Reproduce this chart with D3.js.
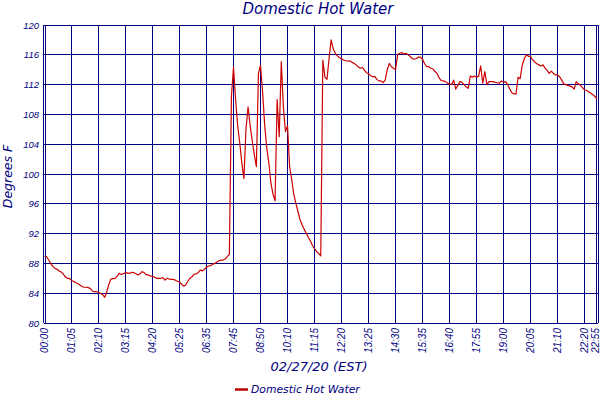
<!DOCTYPE html>
<html>
<head>
<meta charset="utf-8">
<script src="https://cdn.jsdelivr.net/npm/d3@7"></script>
<style>
body { margin: 0; background: #fff; }
svg { display: block; }
</style>
</head>
<body>
<script>
// tick labels along the bottom, one every 13 samples plus the last sample
const tickLabels = ["00:00","01:05","02:10","03:15","04:20","05:25","06:35","07:45","08:50","10:10","11:15",
    "12:20","13:25","14:30","15:35","16:40","17:55","19:00","20:05","21:10","22:20","22:55"]
const tickIndex = [0,13,26,39,52,65,78,91,104,117,130,143,156,169,182,195,208,221,234,247,260,266]
const yTicks = [80,84,88,92,96,100,104,108,112,116,120]

// Domestic Hot Water, degrees F, one value per sample
const temps = [
    89.0, 88.9, 88.45, 88.0, 87.6, 87.35, 87.2, 87.0, 86.85, 86.6,
    86.2, 86.0, 86.0, 85.7, 85.6, 85.4, 85.3, 85.1, 84.9, 84.8,
    84.8, 84.75, 84.65, 84.3, 84.2, 84.2, 84.1, 84.0, 83.8, 83.45,
    84.2, 85.2, 85.9, 85.95, 86.0, 86.3, 86.65, 86.5, 86.65, 86.75,
    86.7, 86.65, 86.8, 86.75, 86.6, 86.45, 86.6, 86.9, 86.75, 86.45,
    86.45, 86.3, 86.3, 86.15, 86.0, 86.0, 86.0, 86.1, 85.75, 86.0,
    85.9, 85.85, 85.85, 85.75, 85.6, 85.5, 85.2, 84.95, 85.1, 85.6,
    86.0, 86.2, 86.55, 86.6, 86.75, 87.1, 87.0, 87.2, 87.5, 87.65,
    87.7, 87.9, 88.0, 88.2, 88.35, 88.45, 88.45, 88.6, 88.9, 89.2,
    110.5, 114.3, 110.0, 106.5, 104.2, 101.5, 99.4, 106.0, 109.0, 106.5,
    104.5, 102.6, 101.0, 113.5, 114.6, 111.0, 106.6, 103.5, 101.5, 98.8,
    97.3, 96.4, 110.0, 105.0, 115.1, 109.0, 105.7, 106.5, 101.0, 99.3,
    97.3, 96.1, 95.0, 93.9, 93.2, 92.6, 92.05, 91.5, 91.0, 90.4,
    90.0, 89.6, 89.3, 89.0, 115.3, 113.0, 112.7, 115.5, 118.0, 116.8,
    116.2, 115.85, 115.6, 115.45, 115.3, 115.2, 115.15, 115.2, 115.0, 114.85,
    114.65, 114.4, 114.2, 114.3, 113.95, 113.6, 113.45, 113.2, 113.05, 113.1,
    112.7, 112.5, 112.5, 112.25, 112.6, 114.0, 114.85, 114.4, 114.2, 114.0,
    116.0, 116.2, 116.3, 116.1, 116.2, 116.0, 115.8, 115.5, 115.4, 115.5,
    115.7, 115.7, 115.4, 114.8, 114.4, 114.4, 114.2, 114.1, 113.75, 113.5,
    112.9, 112.55, 112.5, 112.4, 112.2, 112.1, 112.0, 112.6, 111.4, 111.9,
    112.4, 112.3, 112.0, 111.7, 111.5, 113.15, 113.0, 113.15, 113.0, 113.1,
    114.5, 112.2, 113.75, 112.0, 112.4, 112.4, 112.4, 112.3, 112.25, 112.2,
    112.5, 112.3, 112.4, 112.0, 111.4, 110.9, 110.75, 110.75, 113.0, 112.8,
    114.6, 115.5, 116.0, 115.8, 115.8, 115.3, 115.05, 114.8, 114.65, 114.5,
    114.65, 114.2, 113.9, 113.5, 113.8, 113.5, 113.3, 113.3, 113.05, 112.6,
    112.1, 112.0, 111.9, 111.8, 111.7, 111.4, 112.4, 112.1, 111.9, 111.6,
    111.3, 111.2, 111.05, 110.85, 110.65, 110.4, 110.1
]

const navy = "#000080"
const lineColor = "#cc0000"
const tickFont = "'Liberation Sans', Arial, sans-serif"
const titleFont = "'DejaVu Sans', Verdana, sans-serif"

const x = d3.scaleLinear().domain([0, temps.length - 1]).range([44.5, 597])
const y = d3.scaleLinear().domain([80, 120]).range([323, 25])
const snap = v => Math.round(v - 0.5) + 0.5

const svg = d3.select("body")
    .append("svg")
    .attr("width", 600)
    .attr("height", 400)

// grid
const grid = svg.append("g")
    .attr("stroke", navy)
    .attr("stroke-width", 1)
    .attr("shape-rendering", "crispEdges")

grid.selectAll("line.h")
    .data(yTicks)
    .enter()
    .append("line")
    .attr("class", "h")
    .attr("x1", 44)
    .attr("x2", 598)
    .attr("y1", d => snap(y(d)))
    .attr("y2", d => snap(y(d)))

grid.selectAll("line.v")
    .data(tickIndex.slice(1, -1))
    .enter()
    .append("line")
    .attr("class", "v")
    .attr("x1", d => snap(x(d)))
    .attr("x2", d => snap(x(d)))
    .attr("y1", y(120))
    .attr("y2", y(80))

// double border on both sides
grid.selectAll("line.b")
    .data([43.5, 45.5, 596.5, 598.5])
    .enter()
    .append("line")
    .attr("class", "b")
    .attr("x1", d => d)
    .attr("x2", d => d)
    .attr("y1", y(120))
    .attr("y2", y(80))

// y labels
svg.append("g")
    .selectAll("text")
    .data(yTicks)
    .enter()
    .append("text")
    .attr("x", 39)
    .attr("y", d => y(d) + 3.5)
    .attr("text-anchor", "end")
    .attr("font-family", tickFont)
    .attr("font-style", "italic")
    .attr("font-size", 9.5)
    .attr("fill", navy)
    .text(d => d)

// x labels, rotated (last one kept inside the frame)
svg.append("g")
    .selectAll("text")
    .data(tickIndex)
    .enter()
    .append("text")
    .attr("transform", d => `translate(${Math.min(x(d) + 3.5, 598.5)},328) rotate(-90)`)
    .attr("text-anchor", "end")
    .attr("font-family", tickFont)
    .attr("font-style", "italic")
    .attr("font-size", 10)
    .attr("fill", navy)
    .text((d, i) => tickLabels[i])

// the series
const line = d3.line()
    .x((d, i) => x(i))
    .y(d => y(d))

svg.append("path")
    .datum(temps)
    .attr("fill", "none")
    .attr("stroke", lineColor)
    .attr("stroke-width", 1.2)
    .attr("stroke-linejoin", "round")
    .attr("d", line)

// titles
svg.append("text")
    .attr("x", 318)
    .attr("y", 14)
    .attr("text-anchor", "middle")
    .attr("font-family", titleFont)
    .attr("font-style", "italic")
    .attr("font-size", 15)
    .attr("fill", navy)
    .text("Domestic Hot Water")

svg.append("text")
    .attr("x", 319)
    .attr("y", 371)
    .attr("text-anchor", "middle")
    .attr("font-family", titleFont)
    .attr("font-style", "italic")
    .attr("font-size", 13)
    .attr("fill", navy)
    .text("02/27/20 (EST)")

svg.append("text")
    .attr("transform", "translate(11.5,176.5) rotate(-90)")
    .attr("text-anchor", "middle")
    .attr("font-family", titleFont)
    .attr("font-style", "italic")
    .attr("font-size", 12.5)
    .attr("fill", navy)
    .text("Degrees F")

// legend
const legend = svg.append("g")
legend.append("line")
    .attr("x1", 235)
    .attr("x2", 248)
    .attr("y1", 389.5)
    .attr("y2", 389.5)
    .attr("stroke", "#b80000")
    .attr("stroke-width", 2.5)
legend.append("text")
    .attr("x", 251)
    .attr("y", 393)
    .attr("font-family", titleFont)
    .attr("font-style", "italic")
    .attr("font-size", 10.8)
    .attr("fill", navy)
    .text("Domestic Hot Water")
</script>
</body>
</html>
